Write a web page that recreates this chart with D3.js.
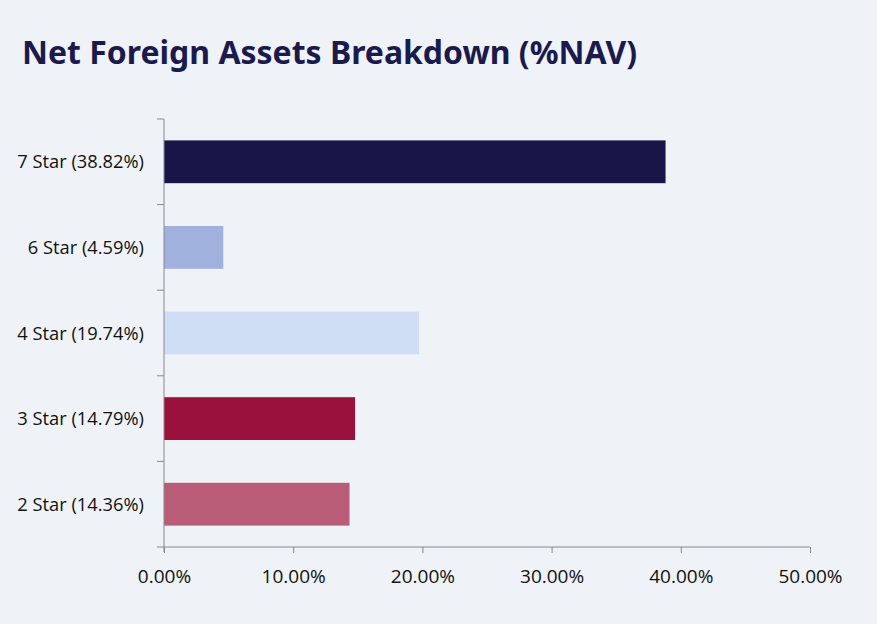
<!DOCTYPE html>
<html><head><meta charset="utf-8">
<script src="https://cdn.jsdelivr.net/npm/d3@7"></script>
<style>
html,body{margin:0;padding:0;background:#eff3f8;}
svg{display:block;}
</style></head>
<body>
<script>
const categories = ["7 Star (38.82%)", "6 Star (4.59%)", "4 Star (19.74%)", "3 Star (14.79%)", "2 Star (14.36%)"];
const values = [38.82, 4.59, 19.74, 14.79, 14.36];
const colors = ["#1a1548", "#9fb1dc", "#d0def5", "#9b113d", "#b95c78"];
const xTicks = [0, 10, 20, 30, 40, 50];
const title = "Net Foreign Assets Breakdown (%NAV)";

const W = 877, H = 624;
const svg = d3.select("body").append("svg").attr("width", W).attr("height", H);
svg.append("rect").attr("width", W).attr("height", H).attr("fill", "#eff3f8");

const m = {left: 164, right: 67, top: 119, bottom: 77};
const x = d3.scaleLinear().domain([0, 50]).range([m.left, W - m.right]);
const y = d3.scaleBand().domain(categories).range([m.top, H - m.bottom]).paddingInner(0.5).paddingOuter(0.25);

const font = "'Open Sans', 'Noto Sans', sans-serif";

svg.append("text").attr("x", 22).attr("y", 64)
  .attr("font-family", "'Noto Sans', sans-serif").attr("font-weight", 700)
  .attr("font-size", 33).attr("fill", "#1b1a4d").text(title)
  .attr("textLength", 615).attr("lengthAdjust", "spacingAndGlyphs");

svg.selectAll("rect.bar").data(values).join("rect").attr("class", "bar")
  .attr("x", x(0)).attr("y", (d, i) => y(categories[i]))
  .attr("width", d => x(d) - x(0)).attr("height", y.bandwidth())
  .attr("fill", (d, i) => colors[i]);

const axisColor = "#888888";
const yAxis = svg.append("g");
yAxis.append("line").attr("x1", x(0)).attr("x2", x(0)).attr("y1", m.top).attr("y2", H - m.bottom + 5)
  .attr("stroke", axisColor).attr("stroke-width", 1);
const yBound = d3.range(categories.length + 1).map(i => m.top + i * (H - m.top - m.bottom) / categories.length);
yAxis.selectAll("line.t").data(yBound).join("line").attr("class", "t")
  .attr("x1", x(0) - 7).attr("x2", x(0)).attr("y1", d => d).attr("y2", d => d)
  .attr("stroke", axisColor);
yAxis.selectAll("text").data(categories).join("text")
  .attr("x", 144).attr("y", d => y(d) + y.bandwidth() / 2 + 6.5)
  .attr("text-anchor", "end").attr("font-family", font).attr("font-size", 18.3)
  .attr("fill", "#111").text(d => d);

const xAxis = svg.append("g").attr("transform", `translate(0,${H - m.bottom})`)
  .call(d3.axisBottom(x).tickValues(xTicks).tickSize(6).tickFormat(d => d.toFixed(2) + "%"));
xAxis.select(".domain").attr("stroke", axisColor).attr("d", `M${x(0)},0H${x(50)}`);
xAxis.selectAll(".tick line").attr("stroke", axisColor);
xAxis.selectAll(".tick text").attr("font-family", font).attr("font-size", 19).attr("fill", "#111")
  .attr("dy", null).attr("y", 36);
</script>
</body></html>
